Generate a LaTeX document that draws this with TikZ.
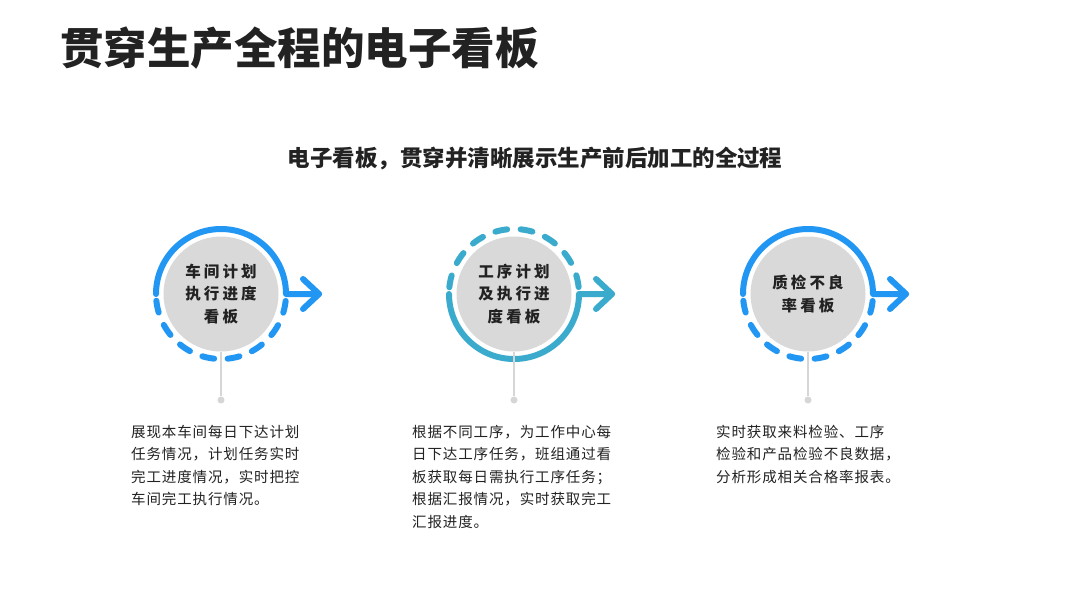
\documentclass[tikz,border=0pt]{standalone}
\usepackage{fontspec}
\setmainfont{Noto Sans CJK SC}
\newfontfamily\boardfont{Noto Sans CJK SC}[LetterSpace=20]
\newfontfamily\notefont{Noto Sans CJK SC}[LetterSpace=6]
\usetikzlibrary{positioning}
\definecolor{ringblue}{HTML}{2196F3}
\definecolor{ringteal}{HTML}{3AABCD}
\definecolor{boardgray}{HTML}{D9D9D9}
\definecolor{stemgray}{HTML}{D6D6D6}
\definecolor{inkdark}{HTML}{222222}

\begin{document}
\begin{tikzpicture}[x=1pt,y=-1pt,
    every node/.style={text=inkdark, inner sep=0pt},
    board/.style={circle, fill=boardgray, minimum size=115pt, align=center,
        font=\boardfont\bfseries\fontsize{15.5}{22.5}\selectfont},
    ring/.style={line width=6pt, line cap=round, line join=round},
    dashring/.style={ring, dash pattern=on 12pt off 13.5pt, dash phase=18.75pt},
    stem/.style={stemgray, line width=2pt},
    knob/.style={circle, fill=stemgray, minimum size=7pt},
    note/.style={anchor=north west, align=left,
        font=\notefont\fontsize{14.5}{22.5}\selectfont}]
    \useasboundingbox[fill=white] (0,0) rectangle (1080,608);

    \node[anchor=west, font=\bfseries\fontsize{43.5}{48}\selectfont] (title) at (60,48) {贯穿生产全程的电子看板};
    \node[font=\bfseries\fontsize{22.5}{26}\selectfont] (sub) at (535,158) {电子看板，贯穿并清晰展示生产前后加工的全过程};

    \node[board] (b1) at (221,294) {车间计划\\执行进度\\看板};
    \node[board] (b2) at (514,294) {工序计划\\及执行进\\度看板};
    \node[board] (b3) at (808,294) {质检不良\\率看板};

    \coordinate (a1) at (319,294);
    \coordinate (a2) at (612,294);
    \coordinate (a3) at (906,294);

    \draw[ring, ringblue] ([xshift=-65pt]b1.center) arc[start angle=180, end angle=360, radius=65] -- (a1);
    \draw[dashring, ringblue] ([xshift=-65pt]b1.center) arc[start angle=180, end angle=0, radius=65];
    \draw[ring, ringblue] ([xshift=-16pt,yshift=15pt]a1) -- (a1) -- ([xshift=-16pt,yshift=-15pt]a1);

    \draw[dashring, ringteal] ([xshift=-65pt]b2.center) arc[start angle=180, end angle=360, radius=65];
    \draw[ring, ringteal] ([xshift=-65pt]b2.center) arc[start angle=180, end angle=0, radius=65] -- (a2);
    \draw[ring, ringteal] ([xshift=-16pt,yshift=15pt]a2) -- (a2) -- ([xshift=-16pt,yshift=-15pt]a2);

    \draw[ring, ringblue] ([xshift=-65pt]b3.center) arc[start angle=180, end angle=360, radius=65] -- (a3);
    \draw[dashring, ringblue] ([xshift=-65pt]b3.center) arc[start angle=180, end angle=0, radius=65];
    \draw[ring, ringblue] ([xshift=-16pt,yshift=15pt]a3) -- (a3) -- ([xshift=-16pt,yshift=-15pt]a3);

    \foreach \i/\x in {1/221,2/514,3/808}{
        \node[knob] (d\i) at (\x,400) {};
        \draw[stem] (b\i.south) -- (d\i);
    }

    \node[note] (t1) at (131,425) {展现本车间每日下达计划\\任务情况，计划任务实时\\完工进度情况，实时把控\\车间完工执行情况。};
    \node[note] (t2) at (412,425) {根据不同工序，为工作中心每\\日下达工序任务，班组通过看\\板获取每日需执行工序任务；\\根据汇报情况，实时获取完工\\汇报进度。};
    \node[note] (t3) at (716,425) {实时获取来料检验、工序\\检验和产品检验不良数据，\\分析形成相关合格率报表。};
\end{tikzpicture}
\end{document}
